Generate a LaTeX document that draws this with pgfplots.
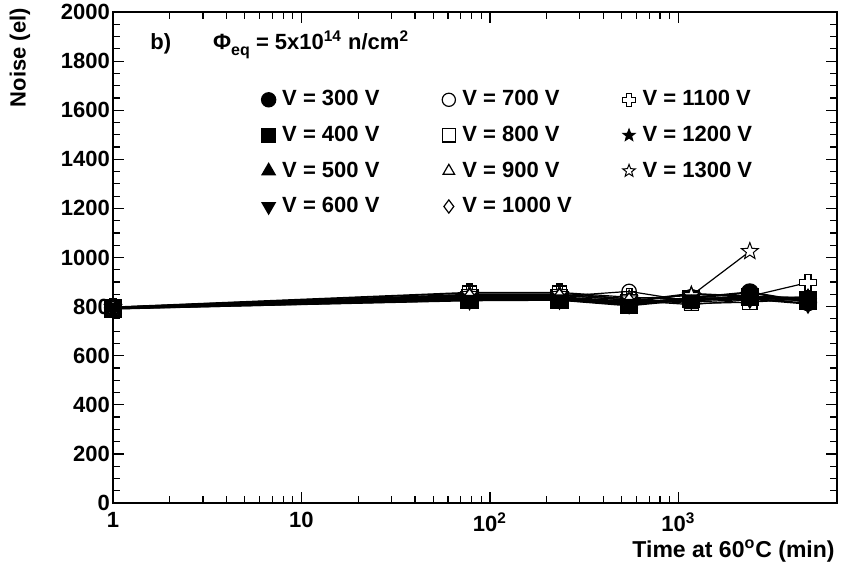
\documentclass[border=0pt]{standalone}
\usepackage{fontspec}
\setmainfont{Liberation Sans}
\usepackage{pgfplots}
\pgfplotsset{compat=1.18}
\pgfdeclareplotmark{ocross}{%
  \pgfpathmoveto{\pgfpoint{-0.35\pgfplotmarksize}{\pgfplotmarksize}}%
  \pgfpathlineto{\pgfpoint{0.35\pgfplotmarksize}{\pgfplotmarksize}}%
  \pgfpathlineto{\pgfpoint{0.35\pgfplotmarksize}{0.35\pgfplotmarksize}}%
  \pgfpathlineto{\pgfpoint{\pgfplotmarksize}{0.35\pgfplotmarksize}}%
  \pgfpathlineto{\pgfpoint{\pgfplotmarksize}{-0.35\pgfplotmarksize}}%
  \pgfpathlineto{\pgfpoint{0.35\pgfplotmarksize}{-0.35\pgfplotmarksize}}%
  \pgfpathlineto{\pgfpoint{0.35\pgfplotmarksize}{-\pgfplotmarksize}}%
  \pgfpathlineto{\pgfpoint{-0.35\pgfplotmarksize}{-\pgfplotmarksize}}%
  \pgfpathlineto{\pgfpoint{-0.35\pgfplotmarksize}{-0.35\pgfplotmarksize}}%
  \pgfpathlineto{\pgfpoint{-\pgfplotmarksize}{-0.35\pgfplotmarksize}}%
  \pgfpathlineto{\pgfpoint{-\pgfplotmarksize}{0.35\pgfplotmarksize}}%
  \pgfpathlineto{\pgfpoint{-0.35\pgfplotmarksize}{0.35\pgfplotmarksize}}%
  \pgfpathclose\pgfusepathqfillstroke}
\pgfdeclareplotmark{mystar}{%
  \pgfpathmoveto{\pgfpointpolar{90}{\pgfplotmarksize}}%
  \pgfpathlineto{\pgfpointpolar{126}{0.42\pgfplotmarksize}}%
  \pgfpathlineto{\pgfpointpolar{162}{\pgfplotmarksize}}%
  \pgfpathlineto{\pgfpointpolar{198}{0.42\pgfplotmarksize}}%
  \pgfpathlineto{\pgfpointpolar{234}{\pgfplotmarksize}}%
  \pgfpathlineto{\pgfpointpolar{270}{0.42\pgfplotmarksize}}%
  \pgfpathlineto{\pgfpointpolar{306}{\pgfplotmarksize}}%
  \pgfpathlineto{\pgfpointpolar{342}{0.42\pgfplotmarksize}}%
  \pgfpathlineto{\pgfpointpolar{18}{\pgfplotmarksize}}%
  \pgfpathlineto{\pgfpointpolar{54}{0.42\pgfplotmarksize}}%
  \pgfpathclose\pgfusepathqfillstroke}
\newcommand{\lt}[1]{\makebox[78pt][l]{#1}}
\begin{document}
\begin{tikzpicture}
\useasboundingbox (-56.5pt,-32.5pt) rectangle (368pt,251.5pt);
\begin{axis}[
  at={(0pt,0pt)}, anchor=south west,
  scale only axis, width=362pt, height=245.5pt,
  xmode=log, xmin=1, xmax=6950, ymin=0, ymax=2000,
  xtick={1,10,100,1000},
  xticklabels={1,10,10\textsuperscript{2},10\textsuperscript{3}},
  ytick={0,200,...,2000}, minor y tick num=3,
  tick align=inside, xtick pos=both, ytick pos=both,
  major tick length=5.5pt, minor tick length=3.5pt,
  axis line style={line width=0.9pt},
  every tick/.style={black, line width=0.6pt},
  ticklabel style={font=\bfseries\fontsize{11}{13}\selectfont},
  /pgf/number format/assume math mode=true,
  /pgf/number format/1000 sep={},
  yticklabel style={xshift=2pt},
  xticklabel style={yshift=-3.5pt, inner sep=1pt},
  legend columns=3,
  legend cell align=left,
  legend image code/.code={\path[#1] plot coordinates {(0.12cm,0cm)};},
  legend image post style={mark size=3.3pt},
  legend style={draw=none, fill=none, at={(0.197,0.857)}, anchor=north west,
    font=\bfseries\fontsize{11}{13}\selectfont, row sep=4.6pt,
    /tikz/every odd column/.append style={column sep=1.5pt}},
  every axis plot/.append style={black},
]
% row-wise legend order
\addplot[line width=1.1pt, mark=*, mark size=4pt, mark options={fill=black}] coordinates {(1,795) (78,832) (234,832) (548,812) (1172,835) (2395,858) (4875,818)};
\addlegendentry{\lt{V = 300 V}}
\addplot[line width=0.6pt, mark=o, mark size=3.6pt, mark options={fill=white, line width=0.6pt}] coordinates {(1,796) (78,842) (234,842) (548,862) (1172,822) (2395,840) (4875,830)};
\addlegendentry{\lt{V = 700 V}}
\addplot[line width=0.6pt, mark=ocross, mark size=4.2pt, mark options={fill=white, line width=0.6pt}] coordinates {(1,798) (78,858) (234,858) (548,838) (1172,830) (2395,842) (4875,898)};
\addlegendentry{\lt{V = 1100 V}}
\addplot[line width=1.1pt, mark=square*, mark size=4pt, mark options={fill=black}] coordinates {(1,792) (78,828) (234,828) (548,805) (1172,830) (2395,838) (4875,825)};
\addlegendentry{\lt{V = 400 V}}
\addplot[line width=0.6pt, mark=square, mark size=3.6pt, mark options={fill=white, line width=0.6pt}] coordinates {(1,797) (78,855) (234,855) (548,832) (1172,812) (2395,818) (4875,832)};
\addlegendentry{\lt{V = 800 V}}
\addplot[line width=1.1pt, mark=mystar, mark size=4pt, mark options={fill=black, line width=0.4pt}] coordinates {(1,795) (78,838) (234,838) (548,820) (1172,852) (2395,840) (4875,835)};
\addlegendentry{\lt{V = 1200 V}}
\addplot[line width=1.1pt, mark=triangle*, mark size=4.2pt, mark options={fill=black}] coordinates {(1,795) (78,830) (234,832) (548,815) (1172,832) (2395,835) (4875,832)};
\addlegendentry{\lt{V = 500 V}}
\addplot[line width=0.6pt, mark=triangle, mark size=4pt, mark options={fill=white, line width=0.6pt}] coordinates {(1,796) (78,848) (234,848) (548,825) (1172,808) (2395,828) (4875,836)};
\addlegendentry{\lt{V = 900 V}}
\addplot[line width=0.6pt, mark=mystar, mark size=4.4pt, mark options={fill=white, line width=0.5pt}] coordinates {(1,797) (78,850) (234,850) (548,832) (1172,845) (2395,1025)};
\addlegendentry{\lt{V = 1300 V}}
\addplot[line width=1.1pt, mark=triangle*, mark size=4.2pt, mark options={fill=black, rotate=180}] coordinates {(1,793) (78,826) (234,828) (548,810) (1172,828) (2395,832) (4875,812)};
\addlegendentry{\lt{V = 600 V}}
\addplot[line width=0.6pt, mark=diamond, mark size=3.4pt, mark options={fill=white, line width=0.6pt}] coordinates {(1,796) (78,845) (234,845) (548,828) (1172,818) (2395,830) (4875,840)};
\addlegendentry{\lt{V = 1000 V}}
\end{axis}
\node[anchor=west, inner sep=0pt, font=\bfseries\fontsize{11}{13}\selectfont] at (18.5pt,229pt)
  {b)\hspace{21pt}Φ\raisebox{-0.5ex}{\fontsize{8}{9}\selectfont eq} = 5x10\textsuperscript{14} n/cm\textsuperscript{2}};
\node[rotate=90, anchor=east, font=\bfseries\fontsize{11}{13}\selectfont] at (-46.5pt,251pt) {Noise (el)};
\node[anchor=east, inner sep=0pt, font=\bfseries\fontsize{11.5}{13}\selectfont] at (361pt,-24pt) {Time at 60\textsuperscript{o}C (min)};
\end{tikzpicture}
\end{document}
